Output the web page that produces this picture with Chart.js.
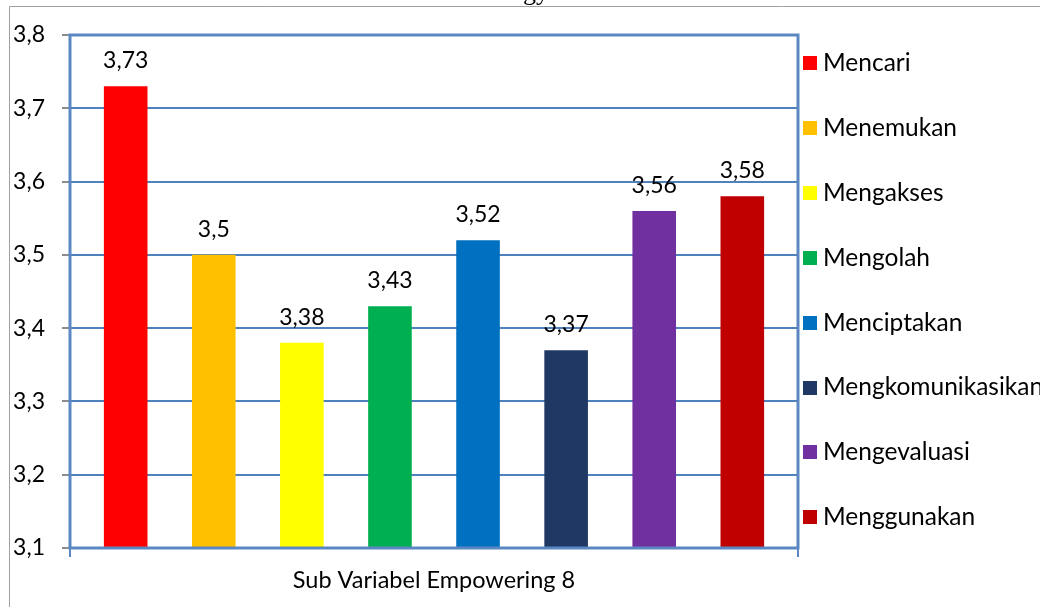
<!DOCTYPE html>
<html>
<head>
<meta charset="utf-8">
<script src="https://cdn.jsdelivr.net/npm/chart.js@4/dist/chart.umd.min.js"></script>
<style>
  html, body { margin: 0; padding: 0; background: #ffffff; }
  canvas { display: block; }
</style>
</head>
<body>
<canvas id="chart" width="1040" height="607"></canvas>
<script>
// Category on the x axis (one group of bars)
const categories = ['Sub Variabel Empowering 8'];

// One series per sub-variable
const seriesNames = ['Mencari', 'Menemukan', 'Mengakses', 'Mengolah',
                     'Menciptakan', 'Mengkomunikasikan', 'Mengevaluasi', 'Menggunakan'];
const seriesValues = [3.73, 3.5, 3.38, 3.43, 3.52, 3.37, 3.56, 3.58];
const seriesColors = ['#FF0000', '#FFC000', '#FFFF00', '#00B050',
                      '#0070C0', '#1F3864', '#7030A0', '#C00000'];

// Value axis tick labels
const yTicks = [3.1, 3.2, 3.3, 3.4, 3.5, 3.6, 3.7, 3.8];

const titleText = 'Technology';

const FONT = 'Lato, "Open Sans", sans-serif';
const FRAME_BLUE = '#5B87C3';
const GRID_BLUE = '#4F81BD';
const comma = v => String(v).replace('.', ',');

// Outer frame, partial title line, plot border, value labels and legend
const decorations = {
  id: 'decorations',
  beforeDraw(chart) {
    const ctx = chart.ctx;
    ctx.save();
    ctx.fillStyle = '#ffffff';
    ctx.fillRect(0, 0, chart.width, chart.height);
    ctx.strokeStyle = '#A0A0A0';
    ctx.lineWidth = 1;
    ctx.beginPath();
    ctx.moveTo(9.5, chart.height);
    ctx.lineTo(9.5, 6.5);
    ctx.lineTo(chart.width, 6.5);
    ctx.stroke();
    ctx.fillStyle = '#000';
    ctx.font = '26px "Liberation Serif", "Times New Roman", serif';
    ctx.textAlign = 'right';
    ctx.textBaseline = 'alphabetic';
    ctx.fillText(titleText, 549, 0);
    ctx.restore();
  },
  afterDatasetsDraw(chart) {
    const ctx = chart.ctx;
    const a = chart.chartArea;
    ctx.save();
    // plot border
    ctx.strokeStyle = FRAME_BLUE;
    ctx.lineWidth = 3;
    ctx.strokeRect(a.left, a.top, a.right - a.left, a.bottom - a.top);

    // value labels above the bars
    ctx.fillStyle = '#000';
    ctx.font = '23px ' + FONT;
    ctx.textAlign = 'center';
    ctx.textBaseline = 'alphabetic';
    chart.data.datasets.forEach((ds, i) => {
      const meta = chart.getDatasetMeta(i);
      meta.data.forEach((el, j) => {
        ctx.fillText(comma(ds.data[j]), el.x, el.y - 18);
      });
    });

    // legend on the right
    ctx.font = '24.5px ' + FONT;
    ctx.textAlign = 'left';
    ctx.textBaseline = 'middle';
    chart.data.datasets.forEach((ds, i) => {
      const y = 63 + i * 64.9;
      ctx.fillStyle = ds.backgroundColor;
      ctx.fillRect(803, Math.round(y - 7), 14, 14);
      ctx.fillStyle = '#000';
      ctx.fillText(ds.label, 823, y);
    });
    ctx.restore();
  }
};

new Chart(document.getElementById('chart'), {
  type: 'bar',
  data: {
    labels: categories,
    datasets: seriesNames.map((name, i) => ({
      label: name,
      data: [seriesValues[i]],
      backgroundColor: seriesColors[i],
      borderWidth: 0,
      categoryPercentage: 0.968,
      barPercentage: 0.495
    }))
  },
  options: {
    responsive: false,
    animation: false,
    devicePixelRatio: 1,
    layout: { padding: { left: 0, top: 35, right: 242, bottom: 0 } },
    plugins: {
      legend: { display: false },
      title: { display: false },
      tooltip: { enabled: false }
    },
    scales: {
      x: {
        border: { display: false },
        grid: {
          color: FRAME_BLUE,
          tickColor: FRAME_BLUE,
          lineWidth: 2,
          tickLength: 9
        },
        ticks: {
          color: '#000',
          font: { family: FONT, size: 23.5 },
          padding: 9
        },
        afterFit(scale) { scale.height = 59; }
      },
      y: {
        min: 3.1,
        max: 3.8,
        border: { display: false },
        grid: {
          color: GRID_BLUE,
          tickColor: '#8C8C8C',
          lineWidth: 2,
          tickLength: 8
        },
        ticks: {
          color: '#000',
          font: { family: FONT, size: 23 },
          padding: 17,
          callback: v => Number(v).toFixed(1).replace('.', ',')
        },
        afterBuildTicks(scale) {
          scale.ticks = yTicks.map(v => ({ value: v }));
        },
        afterFit(scale) { scale.width = 70; }
      }
    }
  },
  plugins: [decorations]
});
</script>
</body>
</html>
